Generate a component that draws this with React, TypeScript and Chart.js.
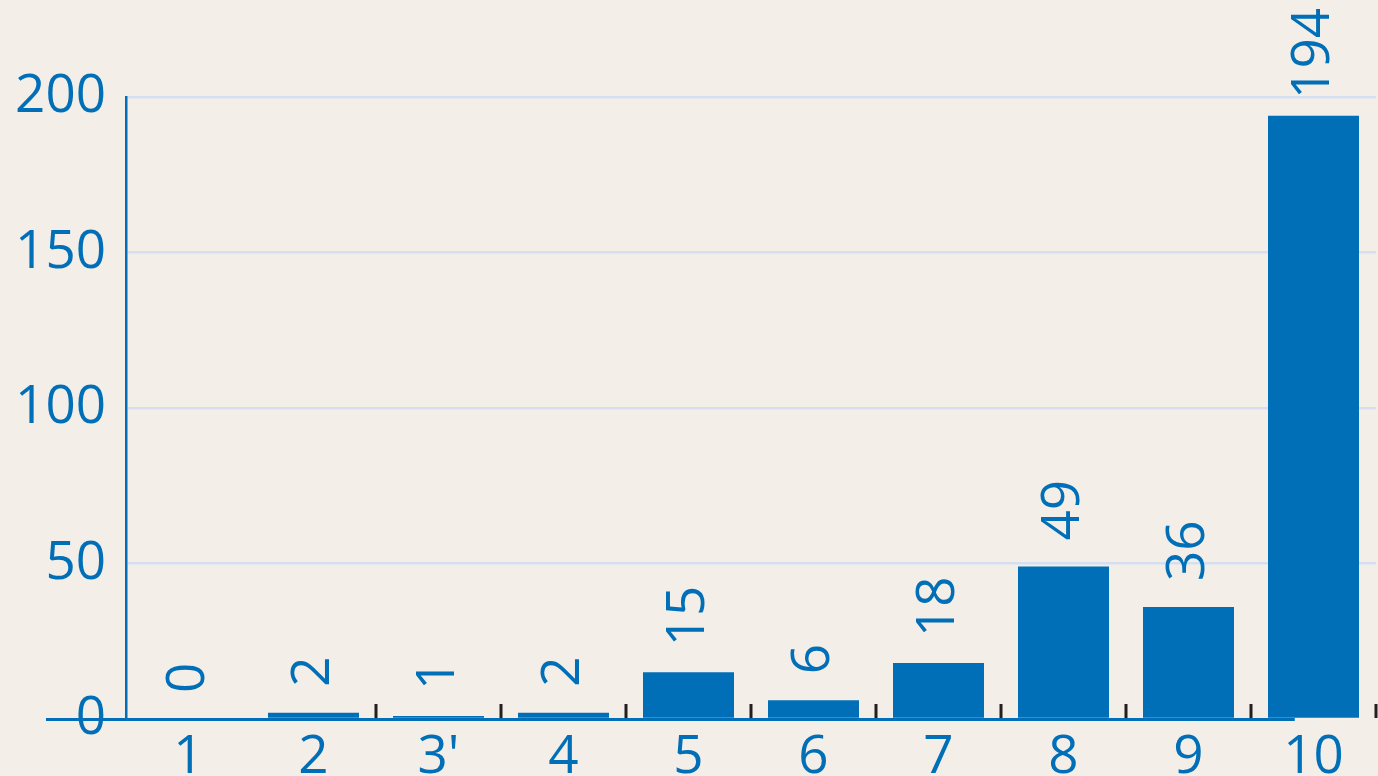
import React, { useEffect, useRef } from "react";
import { Chart, registerables } from "chart.js";

Chart.register(...registerables);

// Category labels along the x axis and the count for each category
const categories: string[] = ["1", "2", "3'", "4", "5", "6", "7", "8", "9", "10"];
const counts: number[] = [0, 2, 1, 2, 15, 6, 18, 49, 36, 194];

// Value axis range and step
const yMin = 0;
const yMax = 200;
const yStep = 50;

const BLUE = "#006fb7";
const GRID = "#d6dff0";
const BG = "#f3eee8";
const TICK = "#231f20";
const FONT = "'Open Sans', 'Noto Sans', sans-serif";
const FONT_SIZE = 53;

// Blue baseline that starts left of the value axis, plus short boundary ticks
const baselinePlugin = {
  id: "baseline",
  beforeDatasetsDraw(chart: any) {
    const { ctx, chartArea, scales } = chart;
    const x = scales.x;
    const y = scales.y;
    const y0 = y.getPixelForValue(0);
    const step = x.getPixelForValue(1) - x.getPixelForValue(0);
    ctx.save();
    ctx.strokeStyle = BLUE;
    ctx.lineWidth = 3;
    ctx.beginPath();
    ctx.moveTo(chartArea.left - 80, y0 + 0.5);
    ctx.lineTo(x.getPixelForValue(categories.length - 1) - step * 0.15, y0 + 0.5);
    ctx.stroke();
    ctx.restore();
  },
  afterDatasetsDraw(chart: any) {
    const { ctx, scales } = chart;
    const x = scales.x;
    const y = scales.y;
    const y0 = y.getPixelForValue(0);
    const step = x.getPixelForValue(1) - x.getPixelForValue(0);
    ctx.save();
    ctx.strokeStyle = TICK;
    ctx.lineWidth = 3;
    for (let i = 1; i < categories.length; i++) {
      const bx = Math.round(x.getPixelForValue(i) + step / 2);
      ctx.beginPath();
      ctx.moveTo(bx, y0 - 15);
      ctx.lineTo(bx, y0 - 1);
      ctx.stroke();
    }
    ctx.restore();
  },
};

// Rotated value labels above each bar
const valueLabelPlugin = {
  id: "valueLabels",
  afterDatasetsDraw(chart: any) {
    const { ctx } = chart;
    const meta = chart.getDatasetMeta(0);
    const data = chart.data.datasets[0].data as number[];
    ctx.save();
    ctx.fillStyle = BLUE;
    ctx.font = `${FONT_SIZE}px ${FONT}`;
    ctx.textAlign = "left";
    ctx.textBaseline = "middle";
    meta.data.forEach((bar: any, i: number) => {
      const text = String(data[i]);
      const w = ctx.measureText(text).width;
      let oy = bar.y - 26;
      oy = Math.max(oy, w + 8);
      ctx.save();
      ctx.translate(bar.x, oy);
      ctx.rotate(-Math.PI / 2);
      ctx.fillText(text, 0, 0);
      ctx.restore();
    });
    ctx.restore();
  },
};

const backgroundPlugin = {
  id: "bg",
  beforeDraw(chart: any) {
    const { ctx, width, height } = chart;
    ctx.save();
    ctx.fillStyle = BG;
    ctx.fillRect(0, 0, width, height);
    ctx.restore();
  },
};

export default function App() {
  const canvasRef = useRef<HTMLCanvasElement | null>(null);

  useEffect(() => {
    document.body.style.margin = "0";
    document.body.style.background = BG;
    const canvas = canvasRef.current;
    if (!canvas) return;
    const chart = new Chart(canvas, {
      type: "bar",
      data: {
        labels: categories,
        datasets: [
          {
            data: counts,
            backgroundColor: BLUE,
            borderWidth: 0,
            barPercentage: 0.728,
            categoryPercentage: 1,
          },
        ],
      },
      options: {
        animation: false,
        responsive: false,
        devicePixelRatio: 1,
        layout: { padding: { top: 97, right: 2, left: 0, bottom: 0 } },
        plugins: {
          legend: { display: false },
          tooltip: { enabled: false },
        },
        scales: {
          x: {
            type: "category",
            offset: true,
            grid: { display: false, drawTicks: false },
            border: { display: false },
            ticks: {
              color: BLUE,
              font: { family: FONT, size: FONT_SIZE },
              padding: 7,
              maxRotation: 0,
              autoSkip: false,
            },
            afterFit(scale: any) {
              scale.height = 57;
            },
          },
          y: {
            min: yMin,
            max: yMax,
            grid: {
              drawTicks: false,
              lineWidth: 2.5,
              color: (c: any) => (c.tick && c.tick.value === 0 ? "rgba(0,0,0,0)" : GRID),
            },
            border: { display: true, color: BLUE, width: 2.5 },
            ticks: {
              stepSize: yStep,
              color: BLUE,
              font: { family: FONT, size: FONT_SIZE },
              padding: 20,
            },
            afterFit(scale: any) {
              scale.width = 126;
            },
          },
        },
      },
      plugins: [backgroundPlugin, baselinePlugin, valueLabelPlugin],
    });
    return () => chart.destroy();
  }, []);

  return (
    <div style={{ width: 1378, height: 776, overflow: "hidden" }}>
      <canvas ref={canvasRef} width={1378} height={776} style={{ display: "block" }} />
    </div>
  );
}
